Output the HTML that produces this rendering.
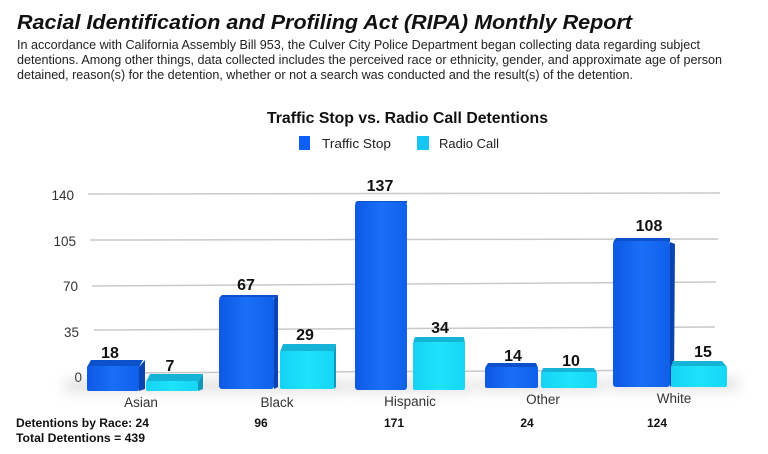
<!DOCTYPE html>
<html><head><meta charset="utf-8"><style>
html,body{margin:0;padding:0;background:#fff;width:768px;height:454px;overflow:hidden}
svg{display:block}
text{font-family:"Liberation Sans",Arial,sans-serif}
</style></head><body>
<svg width="768" height="454" viewBox="0 0 768 454" xmlns="http://www.w3.org/2000/svg">
<defs>
<linearGradient id="gb" x1="0" x2="1" y1="0" y2="0">
<stop offset="0" stop-color="#0d58e4"/><stop offset="0.5" stop-color="#1a6ff6"/><stop offset="1" stop-color="#0f60e8"/>
</linearGradient>
<linearGradient id="gc" x1="0" x2="1" y1="0" y2="0">
<stop offset="0" stop-color="#16d2f4"/><stop offset="0.5" stop-color="#1de3fc"/><stop offset="1" stop-color="#16d6f6"/>
</linearGradient>
<filter id="blur" x="-20%" y="-100%" width="140%" height="300%"><feGaussianBlur stdDeviation="6"/></filter>
</defs>

<!-- Header -->
<text x="17" y="29" font-size="20.5" font-weight="bold" font-style="italic" fill="#111" textLength="615" lengthAdjust="spacingAndGlyphs">Racial Identification and Profiling Act (RIPA) Monthly Report</text>
<text x="17" y="49" font-size="13" fill="#222" textLength="683" lengthAdjust="spacingAndGlyphs">In accordance with California Assembly Bill 953, the Culver City Police Department began collecting data regarding subject</text>
<text x="17" y="64" font-size="13" fill="#222" textLength="705" lengthAdjust="spacingAndGlyphs">detentions.  Among other things, data collected includes the perceived race or ethnicity, gender, and approximate age of person</text>
<text x="17" y="79" font-size="13" fill="#222" textLength="616" lengthAdjust="spacingAndGlyphs">detained, reason(s) for the detention, whether or not a search was conducted and the result(s) of the detention.</text>

<!-- Chart title & legend -->
<text x="267" y="123" font-size="15.5" font-weight="bold" fill="#111" textLength="281" lengthAdjust="spacingAndGlyphs">Traffic Stop vs. Radio Call Detentions</text>
<rect x="299" y="136" width="11" height="14" fill="#0b5ff7"/>
<text x="322" y="148" font-size="13" fill="#222" textLength="69" lengthAdjust="spacingAndGlyphs">Traffic Stop</text>
<rect x="417" y="136" width="12" height="14" fill="#16c6f4"/>
<text x="439" y="148" font-size="13" fill="#222" textLength="60" lengthAdjust="spacingAndGlyphs">Radio Call</text>

<!-- Gridlines -->
<g stroke="#c9c9c9" stroke-width="1.5">
<line x1="88" y1="194" x2="720" y2="193"/>
<line x1="90" y1="240" x2="718" y2="239"/>
<line x1="92" y1="286" x2="716" y2="282"/>
<line x1="94" y1="330" x2="715" y2="327"/>
<line x1="96" y1="373" x2="713" y2="370"/>
</g>
<!-- Y labels -->
<g font-size="13.5" fill="#333" text-anchor="end">
<text x="74" y="200">140</text>
<text x="76" y="246">105</text>
<text x="78" y="291">70</text>
<text x="79" y="337">35</text>
<text x="82" y="382">0</text>
</g>

<!-- Floor shadows -->
<g fill="#a8a8a8" opacity="0.35" filter="url(#blur)">
<rect x="65" y="380" width="145" height="12"/>
<rect x="210" y="380" width="135" height="12"/>
<rect x="348" y="380" width="125" height="12"/>
<rect x="478" y="379" width="125" height="12"/>
<rect x="608" y="378" width="130" height="12"/>
</g>

<!-- Bars -->
<!-- Asian -->
<polygon points="87,367 91,360 143,360 139,367" fill="#0c50cc"/>
<polygon points="139,367 145,360 145,389 139,391" fill="#0a44b0"/>
<rect x="87" y="366" width="52" height="25" rx="2" fill="url(#gb)"/>
<polygon points="146,382 150,374 203,374 198,382" fill="#15b3d6"/>
<polygon points="198,382 203,374 203,389 198,391" fill="#0f98ba"/>
<rect x="146" y="381" width="52" height="10" rx="2" fill="url(#gc)"/>
<!-- Black -->
<polygon points="219,298 222,295 278,295 274,298" fill="#0c50cc"/>
<polygon points="274,298 278,295 278,387 274,389" fill="#0a44b0"/>
<rect x="219" y="297" width="55" height="92" rx="3" fill="url(#gb)"/>
<polygon points="280,352 283,344 336,344 334,352" fill="#15b3d6"/>
<polygon points="334,352 336,344 336,387 334,389" fill="#0f98ba"/>
<rect x="280" y="351" width="54" height="38" rx="2" fill="url(#gc)"/>
<!-- Hispanic -->
<polygon points="355,203 357,201 407,201 407,203" fill="#0c50cc"/>
<rect x="355" y="202" width="52" height="188" rx="3" fill="url(#gb)"/>
<polygon points="413,343 415,337 464,337 465,343" fill="#15b3d6"/>
<rect x="413" y="342" width="52" height="48" rx="2" fill="url(#gc)"/>
<!-- Other -->
<polygon points="485,368 488,363 536,363 538,368" fill="#0c50cc"/>
<rect x="485" y="367" width="53" height="21" rx="2" fill="url(#gb)"/>
<polygon points="541,373 543,368 594,368 597,373" fill="#15b3d6"/>
<rect x="541" y="372" width="56" height="16" rx="2" fill="url(#gc)"/>
<!-- White -->
<polygon points="613,242 616,238 670,238 670,242" fill="#0c50cc"/>
<polygon points="670,242 675,244 674,384 670,387" fill="#0a44b0"/>
<rect x="613" y="241" width="57" height="146" rx="3" fill="url(#gb)"/>
<polygon points="671,367 673,361 722,361 727,367" fill="#15b3d6"/>
<rect x="671" y="366" width="56" height="21" rx="2" fill="url(#gc)"/>

<!-- Value labels -->
<g font-size="16" font-weight="bold" fill="#111" text-anchor="middle">
<text x="110" y="358">18</text>
<text x="170" y="371">7</text>
<text x="246" y="290">67</text>
<text x="305" y="340">29</text>
<text x="380" y="191">137</text>
<text x="440" y="333">34</text>
<text x="513" y="361">14</text>
<text x="571" y="366">10</text>
<text x="649" y="231">108</text>
<text x="703" y="357">15</text>
</g>

<!-- Category labels -->
<g font-size="13.5" fill="#333" text-anchor="middle">
<text x="141" y="407">Asian</text>
<text x="277" y="407">Black</text>
<text x="410" y="406">Hispanic</text>
<text x="543" y="404">Other</text>
<text x="674" y="403">White</text>
</g>

<!-- Bottom totals -->
<g font-size="12" font-weight="bold" fill="#111">
<text x="16" y="427" textLength="133" lengthAdjust="spacingAndGlyphs">Detentions by Race: 24</text>
<text x="16" y="442" textLength="129" lengthAdjust="spacingAndGlyphs">Total Detentions = 439</text>
<text x="261" y="427" text-anchor="middle">96</text>
<text x="394" y="427" text-anchor="middle">171</text>
<text x="527" y="427" text-anchor="middle">24</text>
<text x="657" y="427" text-anchor="middle">124</text>
</g>
</svg>
</body></html>
